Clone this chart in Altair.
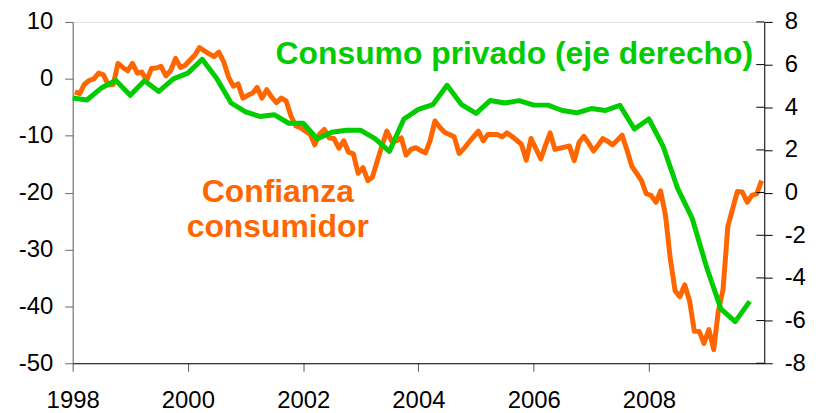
import altair as alt
import pandas as pd

# Consumer confidence (monthly, left axis)
conf_1998 = [-2.3, -2.6, -1.0, -0.3, 0.0, 1.0, 0.7, -1.1, -1.0, 2.7, 2.0, 1.4]
conf_1999 = [2.7, 1.0, 1.2, -0.3, 1.8, 1.9, 2.2, 0.5, 1.5, 3.6, 2.0, 2.4]
conf_2000 = [3.3, 4.2, 5.5, 4.9, 4.4, 3.9, 4.7, 3.0, 0.3, -1.3, -0.9, -3.4]
conf_2001 = [-2.9, -2.5, -1.5, -3.4, -1.9, -3.2, -4.2, -3.4, -3.9, -6.5, -8.3, -8.6]
conf_2002 = [-9.2, -9.8, -11.6, -9.7, -8.9, -10.4, -10.5, -12.2, -10.9, -12.9, -13.2, -16.6]
conf_2003 = [-15.6, -17.9, -17.3, -14.5, -11.8, -9.2, -10.9, -10.9, -10.4, -13.4, -12.4, -12.1]
conf_2004 = [-12.6, -13.0, -10.9, -7.4, -8.5, -9.4, -9.8, -10.2, -13.1, -12.3, -11.2, -10.2]
conf_2005 = [-9.2, -10.9, -9.8, -9.8, -9.8, -10.2, -9.5, -10.1, -10.8, -11.5, -14.3, -10.5]
conf_2006 = [-12.3, -14.1, -11.8, -9.5, -12.4, -12.2, -12.0, -11.8, -14.4, -11.2, -10.1, -11.3]
conf_2007 = [-12.7, -11.6, -10.5, -11.0, -11.6, -10.8, -9.9, -12.5, -15.4, -16.6, -17.9, -20.2]
conf_2008 = [-20.5, -21.7, -19.7, -24.0, -31.5, -37.3, -38.3, -36.2, -39.1, -44.4, -44.4, -46.5]
conf_2009 = [-44.1, -47.6, -41.0, -37.0, -26.0, -22.8, -19.8, -19.9, -21.7, -20.5, -20.2, -17.9]

# Private consumption (quarterly, right axis)
cons_1998 = [4.43, 4.34, 4.90, 5.26]
cons_1999 = [4.56, 5.24, 4.74, 5.33]
cons_2000 = [5.60, 6.25, 5.36, 4.20]
cons_2001 = [3.78, 3.57, 3.65, 3.25]
cons_2002 = [3.25, 2.52, 2.83, 2.92]
cons_2003 = [2.92, 2.53, 1.93, 3.45]
cons_2004 = [3.90, 4.12, 5.03, 4.12]
cons_2005 = [3.71, 4.32, 4.20, 4.31]
cons_2006 = [4.10, 4.10, 3.85, 3.74]
cons_2007 = [3.94, 3.85, 4.09, 2.98]
cons_2008 = [3.45, 2.15, 0.20, -1.20]
cons_2009 = [-3.50, -5.45, -6.05, -5.10]

left_ticks = [-50, -40, -30, -20, -10, 0, 10]
right_ticks = [-8, -6, -4, -2, 0, 2, 4, 6, 8]
year_ticks = [1998, 2000, 2002, 2004, 2006, 2008]

label_green = "Consumo privado (eje derecho)"
label_orange = "Confianza\nconsumidor"

ORANGE = "#FF6600"
GREEN = "#00CC00"
FONT = "Liberation Sans"

conf_values = (conf_1998 + conf_1999 + conf_2000 + conf_2001 + conf_2002 + conf_2003 +
               conf_2004 + conf_2005 + conf_2006 + conf_2007 + conf_2008 + conf_2009)
cons_values = (cons_1998 + cons_1999 + cons_2000 + cons_2001 + cons_2002 + cons_2003 +
               cons_2004 + cons_2005 + cons_2006 + cons_2007 + cons_2008 + cons_2009)

conf_dates = pd.date_range("1998-01-01", periods=len(conf_values), freq="MS") + pd.Timedelta(days=14)
cons_dates = pd.date_range("1998-01-01", periods=len(cons_values), freq="QS")

conf_df = pd.DataFrame({"date": conf_dates, "value": conf_values})
cons_df = pd.DataFrame({"date": cons_dates, "value": cons_values})
rtick_df = pd.DataFrame({"v": right_ticks})
green_lbl_df = pd.DataFrame({"date": [pd.Timestamp("2001-07-10")], "value": [2.6], "t": [label_green]})
orange_lbl_df = pd.DataFrame({"date": [pd.Timestamp("2001-07-24")], "value": [-21.7], "t": [label_orange]})

x_scale = alt.Scale(domain=[alt.DateTime(year=1998, month=1, date=1),
                            alt.DateTime(year=2010, month=1, date=1)])
x_axis = alt.Axis(values=[alt.DateTime(year=y, month=1, date=1) for y in year_ticks],
                  format="%Y", title=None, grid=False, tickSize=8, labelPadding=17,
                  labelFontSize=24, labelFont=FONT, labelColor="black",
                  domainColor="black", tickColor="#555", labelFlush=False)
left_scale = alt.Scale(domain=[-50, 10], nice=False, zero=False)
right_scale = alt.Scale(domain=[-8, 8], nice=False, zero=False)

left_axis = alt.Axis(orient="left", values=left_ticks, title=None, grid=False, tickSize=8,
                     labelPadding=12, labelFontSize=24, labelFont=FONT, labelColor="black",
                     domainColor="#666", tickColor="#666",
                     labelExpr="toString(datum.value)")
right_axis = alt.Axis(orient="right", values=right_ticks, title=None, grid=False, tickSize=8,
                      labelPadding=12, labelFontSize=24, labelFont=FONT, labelColor="black",
                      domainColor="black", tickColor="black",
                      labelExpr="toString(datum.value)")

orange_line = alt.Chart(conf_df).mark_line(color=ORANGE, strokeWidth=5, strokeJoin="round").encode(
    x=alt.X("date:T", scale=x_scale, axis=x_axis),
    y=alt.Y("value:Q", scale=left_scale, axis=left_axis),
)
green_text = alt.Chart(green_lbl_df).mark_text(
    align="left", baseline="alphabetic", fontSize=32, fontWeight="bold", font=FONT, color=GREEN
).encode(x=alt.X("date:T"), y=alt.Y("value:Q"), text="t:N")
orange_text = alt.Chart(orange_lbl_df).mark_text(
    align="center", baseline="alphabetic", fontSize=32, fontWeight="bold", font=FONT,
    color=ORANGE, lineBreak="\n", lineHeight=34.5
).encode(x=alt.X("date:T"), y=alt.Y("value:Q"), text="t:N")

left_layer = alt.layer(orange_line, green_text, orange_text)

green_line = alt.Chart(cons_df).mark_line(color=GREEN, strokeWidth=5, strokeJoin="round").encode(
    x=alt.X("date:T", scale=x_scale, axis=x_axis),
    y=alt.Y("value:Q", scale=right_scale, axis=right_axis),
)
inner_ticks = alt.Chart(rtick_df).mark_rule(color="black", strokeWidth=1).encode(
    y=alt.Y("v:Q"), x=alt.value(687), x2=alt.value(695)
)
right_layer = alt.layer(green_line, inner_ticks)

chart = alt.layer(left_layer, right_layer).resolve_scale(y="independent").properties(
    width=695, height=343,
    padding={"left": 65, "top": 13, "right": 50, "bottom": 48},
    autosize=alt.AutoSizeParams(type="none"),
).configure_view(strokeWidth=0).configure(background="white")

chart.save("out.html", embed_options={"renderer": "svg", "actions": False})
